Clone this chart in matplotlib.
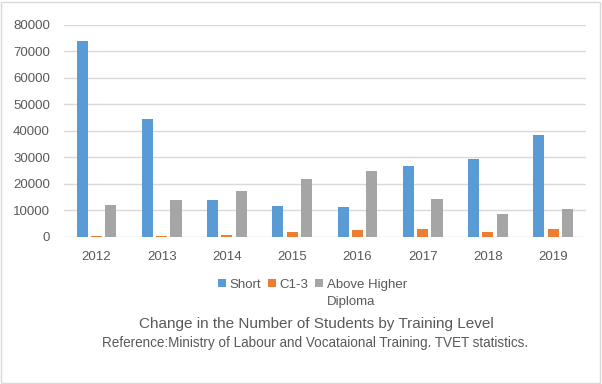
import numpy as np
import matplotlib.pyplot as plt
from matplotlib.patches import Rectangle

years = ['2012', '2013', '2014', '2015', '2016', '2017', '2018', '2019']
short = [74000, 44500, 14000, 11700, 11300, 26800, 29400, 38500]
c13 = [300, 300, 750, 2000, 2600, 3000, 1900, 3000]
above_higher = [12000, 14000, 17400, 21900, 24900, 14300, 8700, 10600]

plt.rcParams['font.family'] = ['Liberation Sans', 'DejaVu Sans']
txt = '#595959'
grid = '#D9D9D9'

fig = plt.figure(figsize=(6.02, 3.84), dpi=100)
ax = fig.add_axes([0.106, 0.383, 0.867, 0.552])

x = np.arange(len(years))
w = 0.17
off = 0.22
ax.bar(x - off, short, w, color='#5B9BD5', label='Short', zorder=3)
ax.bar(x, c13, w, color='#ED7D31', label='C1-3', zorder=3)
ax.bar(x + off, above_higher, w, color='#A5A5A5', label='Above Higher', zorder=3)

ax.set_xlim(-0.5, len(years) - 0.5)
ax.set_ylim(0, 80000)
ax.set_yticks(range(0, 80001, 10000))
ax.set_xticks(x)
ax.set_xticklabels(years)
ax.yaxis.grid(True, color=grid, linewidth=1, zorder=0)
for s in ax.spines.values():
    s.set_visible(False)
ax.tick_params(length=0, colors=txt, labelsize=9.5)
ax.tick_params(axis='y', pad=10)
ax.tick_params(axis='x', pad=10)

leg = fig.legend(loc='center', bbox_to_anchor=(0.519, 0.258), ncol=3, frameon=False,
                 fontsize=9.5, handlelength=0.6, handleheight=0.6, handletextpad=0.3,
                 columnspacing=0.5, labelcolor=txt, borderpad=0)

# second line of the last legend label, left-aligned under "Above Higher"
fig.canvas.draw()
bb = leg.get_texts()[2].get_window_extent().transformed(fig.transFigure.inverted())
fig.text(bb.x0, 0.213, 'Diploma', ha='left', va='center', fontsize=9.5, color=txt)

fig.text(0.525, 0.157, 'Change in the Number of Students by Training Level', ha='center', va='center',
         fontsize=11, color=txt)
fig.text(0.524, 0.107, 'Reference:Ministry of Labour and Vocataional Training. TVET statistics.',
         ha='center', va='center', fontsize=9.75, color=txt)

fig.patches.append(Rectangle((0.002, 0.003), 0.995, 0.993, transform=fig.transFigure,
                             fill=False, edgecolor=grid, linewidth=1))

fig.savefig('out.png', dpi=100)
